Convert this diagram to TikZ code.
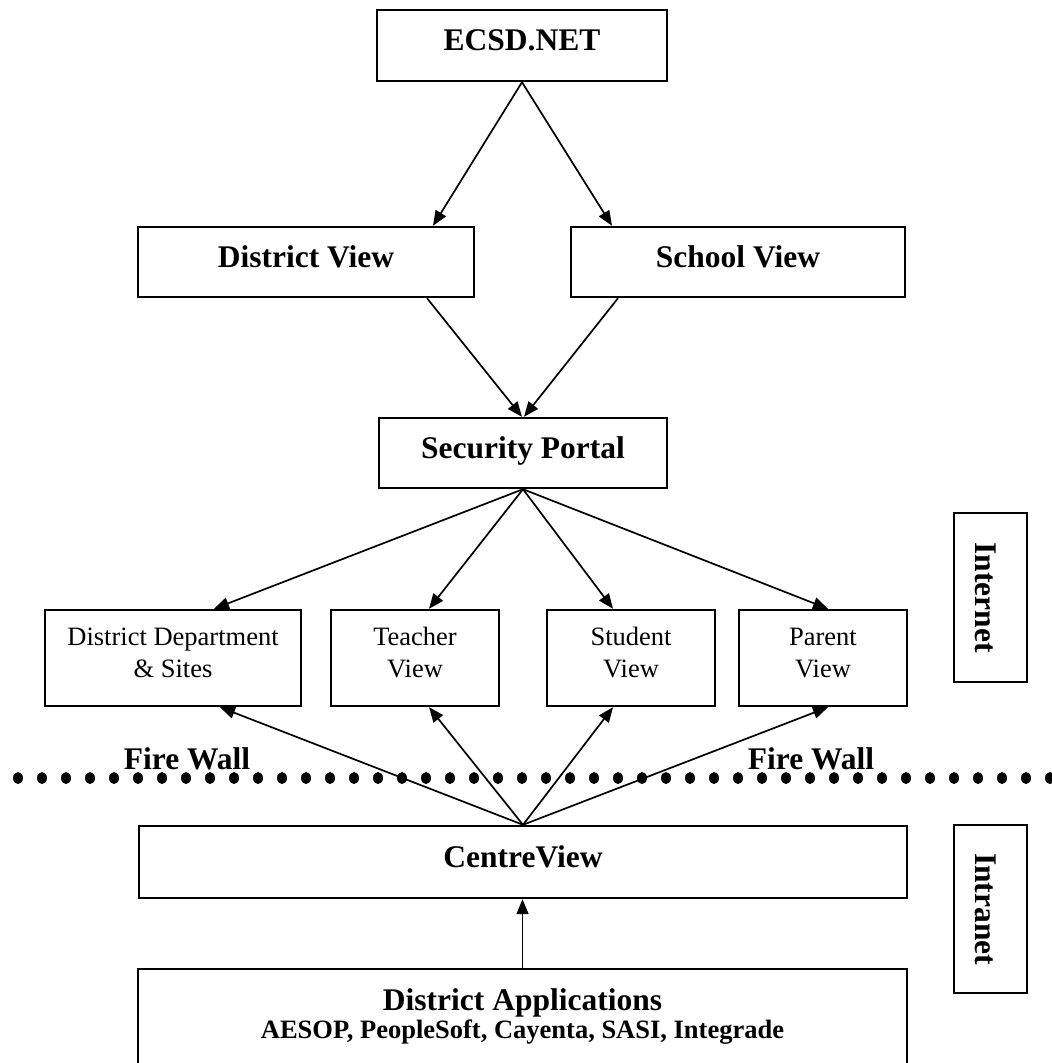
\documentclass[tikz,border=0pt]{standalone}
\usepackage{fontspec}
\setmainfont{Liberation Serif}
\usetikzlibrary{arrows.meta}
\begin{document}
\begin{tikzpicture}[x=1pt,y=-1pt,
  box/.style={draw, line width=2.4pt, rectangle, inner sep=0pt},
  title/.style={font=\fontsize{31.5}{36}\selectfont\bfseries, text height=21pt, text depth=11pt},
  btxt/.style={font=\fontsize{31.5}{36}\selectfont\bfseries, anchor=base, inner sep=0pt},
  stxt/.style={font=\fontsize{26.5}{32}\selectfont\bfseries, anchor=base, inner sep=0pt},
  lab/.style={font=\fontsize{26.5}{32}\selectfont, anchor=base, inner sep=0pt},
  arr/.style={line width=1.7pt, -{Triangle[length=15pt,width=12pt]}},
  ]
\useasboundingbox (0,0) rectangle (1052,1063);
\clip (0,0) rectangle (1052,1063);

% top boxes
\node[box,title,minimum width=290pt,minimum height=71pt] (ecsd) at (522,45.5) {ECSD.NET};
\node[box,title,minimum width=336pt,minimum height=70pt] (dv) at (306,262) {District View};
\node[box,title,minimum width=334pt,minimum height=70pt] (sv) at (738,262) {School View};
\node[box,title,minimum width=288pt,minimum height=70pt] (sp) at (523,453) {Security Portal};

% row of views
\node[box,minimum width=256pt,minimum height=96pt] (dd) at (173,658) {};
\node[lab] (dd1) at (173,645) {District Department};
\node[lab] (dd2) at (173,677) {\& Sites};
\node[box,minimum width=168pt,minimum height=96pt] (tv) at (415,658) {};
\node[lab] (tv1) at (415,645) {Teacher};
\node[lab] (tv2) at (415,677) {View};
\node[box,minimum width=168pt,minimum height=96pt] (st) at (631,658) {};
\node[lab] (st1) at (631,645) {Student};
\node[lab] (st2) at (631,677) {View};
\node[box,minimum width=168pt,minimum height=96pt] (pv) at (823,658) {};
\node[lab] (pv1) at (823,645) {Parent};
\node[lab] (pv2) at (823,677) {View};

% side boxes
\node[box,minimum width=73pt,minimum height=169pt] (inet) at (990.5,597.5) {};
\node[btxt,rotate=-90] (inett) at (975,597.5) {Internet};
\node[box,minimum width=73pt,minimum height=168pt] (intra) at (990.5,909) {};
\node[btxt,rotate=-90] (intrat) at (975,909) {Intranet};

% fire wall
\foreach \i in {0,...,43} \fill (18+24*\i,778) ellipse (5 and 6);
\node[btxt] (fw1) at (187,769) {Fire Wall};
\node[btxt] (fw2) at (811,769) {Fire Wall};

% bottom boxes
\node[box,title,minimum width=768pt,minimum height=72pt] (cv) at (523,862) {CentreView};
\node[box,minimum width=769pt,minimum height=122pt] (da) at (522.5,1030) {};
\node[btxt] (dat) at (522.5,1010) {District Applications};
\node[stxt] (das) at (522.5,1038) {AESOP, PeopleSoft, Cayenta, SASI, Integrade};

% connectors
\draw[arr] (ecsd.south) -- ([xshift=127pt]dv.north);
\draw[arr] (ecsd.south) -- ([xshift=-126pt]sv.north);
\draw[arr] ([xshift=121pt]dv.south) -- ([xshift=-1pt]sp.north);
\draw[arr] ([xshift=-120pt]sv.south) -- ([xshift=1pt]sp.north);
\draw[arr] (sp.south) -- ([xshift=41pt]dd.north);
\draw[arr] (sp.south) -- ([xshift=14pt]tv.north);
\draw[arr] (sp.south) -- ([xshift=-18pt]st.north);
\draw[arr] (sp.south) -- ([xshift=5pt]pv.north);
\draw[arr] (cv.north) -- ([xshift=47pt]dd.south);
\draw[arr] (cv.north) -- ([xshift=14pt]tv.south);
\draw[arr] (cv.north) -- ([xshift=-18pt]st.south);
\draw[arr] (cv.north) -- ([xshift=5pt]pv.south);
\draw[arr] (da.north) -- (da.north |- cv.south);
\end{tikzpicture}
\end{document}
